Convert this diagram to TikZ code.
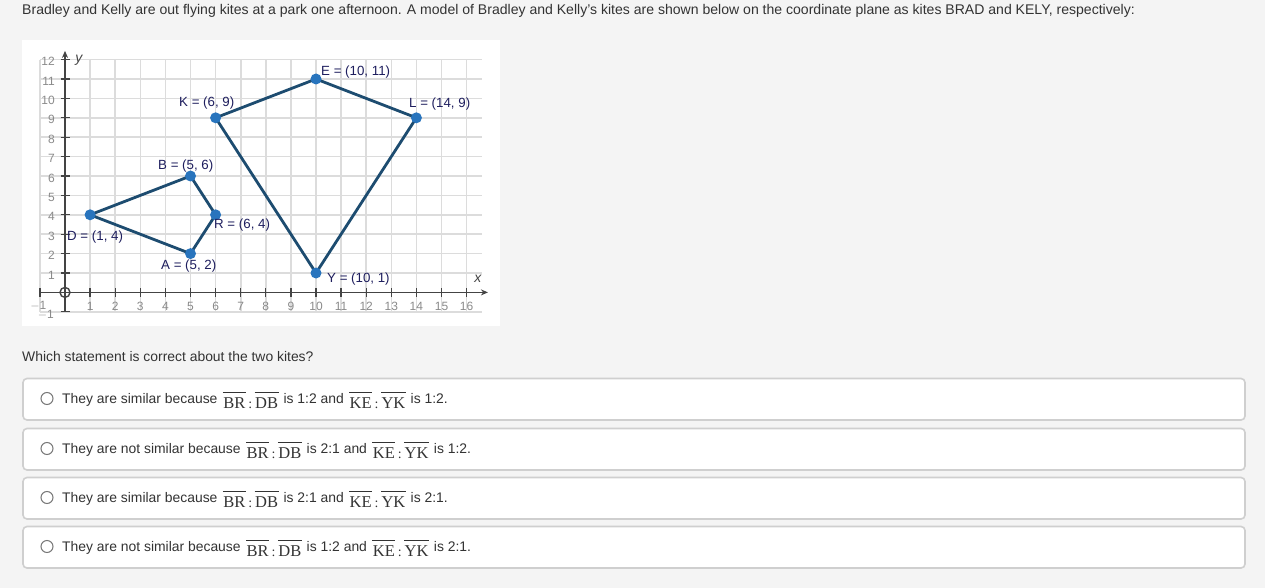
\documentclass[tikz,border=0pt]{standalone}
\usepackage{fontspec}
\setmainfont{Liberation Sans}
\newfontfamily\tms{Liberation Serif}
\usetikzlibrary{arrows.meta}
\definecolor{bg}{HTML}{F4F4F4}
\definecolor{txt}{HTML}{333333}
\definecolor{gridc}{HTML}{DCDCDC}
\definecolor{axisc}{HTML}{444444}
\definecolor{tickc}{HTML}{8A8A8A}
\definecolor{kitec}{HTML}{1D4C70}
\definecolor{dotc}{HTML}{2874BD}
\definecolor{lblc}{HTML}{1E1E5E}
\definecolor{boxc}{HTML}{CFCFCF}
\definecolor{radioc}{HTML}{777777}
\newcommand\seg[1]{\vbox{\hrule height 1pt\kern 4pt\hbox{\kern0.5pt\tms\fontsize{16.5}{16.5}\selectfont #1\kern0.5pt}}}
\newcommand\ratio[2]{\hspace{1.5pt}\raisebox{-4.5pt}{\seg{#1}\hspace{2.5pt}{\tms\fontsize{14}{14}\selectfont:}\hspace{2.5pt}\seg{#2}}\hspace{1pt}}
\tikzset{
  gridline/.style={gridc, line width=1.6pt},
  axisline/.style={axisc, line width=1.5pt, -{Stealth[length=7pt,width=6pt]}},
  tickline/.style={axisc, line width=1.3pt},
  ticklbl/.style={text=tickc, font=\fontsize{12}{12}\selectfont, inner sep=0pt},
  kite/.style={kitec, line width=2.8pt, line join=round},
  dot/.style={circle, fill=dotc, minimum size=11pt, inner sep=0pt},
  ptlbl/.style={text=lblc, font=\fontsize{13.3}{13.3}\selectfont, inner sep=0pt, anchor=west},
  axlbl/.style={text=axisc, font=\fontsize{14}{14}\selectfont\itshape, inner sep=0pt},
  optbox/.style={draw=boxc, fill=white, line width=1.6pt, rounded corners=4pt},
  radio/.style={circle, draw=radioc, fill=white, line width=1pt, minimum size=12pt, inner sep=0pt},
  opttxt/.style={text=txt, font=\fontsize{13.9}{14}\selectfont, inner sep=0pt, anchor=base west},
}
\begin{document}
\begin{tikzpicture}[x=1pt,y=1pt]
\fill[bg] (0,0) rectangle (1265,-588);
\useasboundingbox (0,0) rectangle (1265,-588);

\node[opttxt, font=\fontsize{14.05}{14}\selectfont] (title) at (22,-14.8) {Bradley and Kelly are out flying kites at a park one afternoon. A model of Bradley and Kelly's kites are shown below on the coordinate plane as kites BRAD and KELY, respectively:};

\fill[white] (22,-40) rectangle (500,-326);

\begin{scope}[shift={(65,-292.4)}, x=25.1pt, y=19.4pt]
  \foreach \i in {-1,...,16} \draw[gridline] (\i,-1) -- (\i,12);
  \foreach \j in {-1,...,12} \draw[gridline] (-1,\j) -- (16.6,\j);
  \draw[axisline] (-1,0) -- (16.85,0);
  \draw[axisline] (0,-1) -- (0,12.45);
  \foreach \i in {-1,1,2,...,16} \draw[tickline] (\i,0) ++(0,-4.5pt) -- ++(0,9pt);
  \foreach \j in {-1,1,2,...,12} \draw[tickline] (0,\j) ++(-4.5pt,0) -- ++(9pt,0);
  \foreach \i in {1,...,16} \node[ticklbl] (xl\i) at ([yshift=-14pt]\i,0) {\i};
  \node[ticklbl] (xlm) at ([xshift=-1.5pt,yshift=-13pt]-1,0) {$-$1};
  \foreach \j in {1,...,12} \node[ticklbl, anchor=east] (yl\j) at ([xshift=-10pt,yshift=-2pt]0,\j) {\j};
  \node[ticklbl, anchor=east] (ylm) at ([xshift=-11pt,yshift=-3pt]0,-1) {$-$1};
  \draw[axisc, line width=1.4pt] (0,0) circle (5pt);
  \node[axlbl] (xlab) at (16.45,0.7) {x};
  \node[axlbl] (ylab) at (0.55,11.95) {y};

  \coordinate (B) at (5,6);
  \coordinate (R) at (6,4);
  \coordinate (A) at (5,2);
  \coordinate (D) at (1,4);
  \coordinate (K) at (6,9);
  \coordinate (E) at (10,11);
  \coordinate (L) at (14,9);
  \coordinate (Y) at (10,1);
  \draw[kite] (B) -- (R) -- (A) -- (D) -- cycle;
  \draw[kite] (K) -- (E) -- (L) -- (Y) -- cycle;
  \foreach \p in {B,R,A,D,K,E,L,Y} \node[dot] (d\p) at (\p) {};
\end{scope}

\node[ptlbl] (lE) at (321,-72) {E = (10, 11)};
\node[ptlbl] (lK) at (179,-103) {K = (6, 9)};
\node[ptlbl] (lL) at (409,-104) {L = (14, 9)};
\node[ptlbl] (lB) at (158,-166) {B = (5, 6)};
\node[ptlbl] (lR) at (214,-225) {R = (6, 4)};
\node[ptlbl] (lD) at (67,-237) {D = (1, 4)};
\node[ptlbl] (lA) at (161,-266) {A = (5, 2)};
\node[ptlbl] (lY) at (327,-279) {Y = (10, 1)};

\node[opttxt] (question) at (22,-361.8) {Which statement is correct about the two kites?};

\foreach \t/\n/\s in {378.5/1/{They are similar because \ratio{BR}{DB} is 1:2 and \ratio{KE}{YK} is 1:2.},
                      428.5/2/{They are not similar because \ratio{BR}{DB} is 2:1 and \ratio{KE}{YK} is 1:2.},
                      477.5/3/{They are similar because \ratio{BR}{DB} is 2:1 and \ratio{KE}{YK} is 2:1.},
                      526.5/4/{They are not similar because \ratio{BR}{DB} is 1:2 and \ratio{KE}{YK} is 2:1.}} {
  \draw[optbox] (23,-\t) rectangle (1245,-\t-41.5);
  \node[radio] (rb\n) at (47,-\t-20) {};
  \node[opttxt] (ot\n) at (62,-\t-25) {\s};
}
\end{tikzpicture}
\end{document}
